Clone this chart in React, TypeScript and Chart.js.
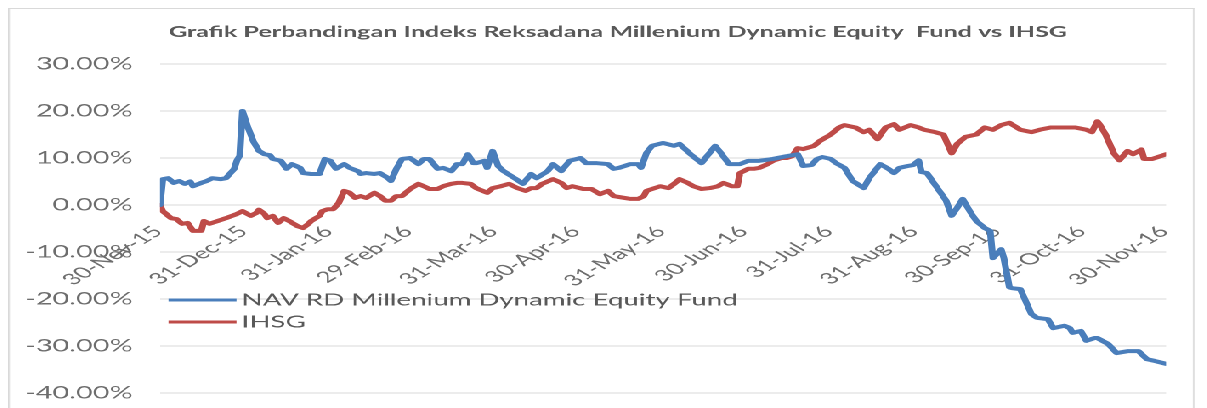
import React, { useEffect, useRef } from 'react';
import { Chart, registerables } from 'chart.js';

Chart.register(...registerables);

const TITLE = 'Grafik Perbandingan Indeks Reksadana Millenium Dynamic Equity  Fund vs IHSG';
const SERIES_NAMES = ['NAV RD Millenium Dynamic Equity Fund', 'IHSG'];
const SERIES_COLORS = ['#4a7ebb', '#be4b48'];

// x = days since 30-Nov-15
const TICK_DAYS = [0, 31, 62, 91, 122, 152, 183, 213, 244, 275, 305, 336, 366];
const TICK_LABELS = [
  '30-Nov-15', '31-Dec-15', '31-Jan-16', '29-Feb-16', '31-Mar-16', '30-Apr-16',
  '31-May-16', '30-Jun-16', '31-Jul-16', '31-Aug-16', '30-Sep-16', '31-Oct-16', '30-Nov-16',
];
const Y_MIN = -40;
const Y_MAX = 30;
const Y_STEP = 10;

const NAV_DAYS = [
  0, 1, 3, 5, 7, 9, 11, 12, 15, 17, 19, 22, 24, 27, 28, 29, 30, 32, 34, 36, 38, 40, 41, 44, 46, 48,
  51, 52, 55, 58, 60, 62, 64, 67, 69, 72, 73, 75, 78, 80, 83, 84, 86, 88, 91, 94, 96, 98, 101, 103,
  106, 108, 110, 112, 114, 115, 118, 119, 121, 123, 125, 129, 132, 135, 137, 141, 143, 146, 149,
  153, 155, 159, 163, 165, 167, 171, 174, 175, 177, 179, 183, 187, 189, 193, 197, 199, 202, 204,
  207, 211, 214, 218, 223, 228, 232, 234, 237, 239, 241, 244, 246, 249, 252, 256, 258, 262, 265,
  267, 269, 272, 274, 276, 277, 279, 281, 284, 286, 288, 290, 292, 295, 297, 300, 302, 303, 306,
  307, 309, 310, 313, 317, 319, 323, 325, 329, 331, 332, 335, 337, 340, 341, 345, 348, 352, 356,
  359, 362, 366,
];
const NAV_VALUES = [
  0.0, 5.5, 5.7, 4.7, 5.1, 4.5, 5.0, 4.0, 4.7, 5.1, 5.7, 5.5, 5.7, 7.7, 9.5, 10.5, 20.0, 16.5, 13.5,
  11.5, 10.8, 10.6, 9.8, 9.4, 7.7, 8.7, 7.9, 6.8, 6.6, 6.6, 9.8, 9.4, 7.7, 8.7, 7.9, 7.2, 6.6, 6.8,
  6.6, 6.8, 5.7, 5.1, 7.7, 9.8, 10.0, 8.7, 9.8, 9.8, 7.7, 7.9, 7.2, 8.7, 8.7, 10.8, 8.9, 8.9, 9.4,
  7.9, 11.5, 8.3, 7.2, 5.7, 4.5, 6.6, 5.7, 7.2, 8.7, 7.2, 9.4, 10.0, 8.9, 8.9, 8.7, 7.7, 7.9, 8.7,
  8.7, 7.9, 11.1, 12.6, 13.2, 12.6, 13.0, 10.8, 8.9, 10.4, 12.6, 11.1, 8.7, 8.7, 9.4, 9.4, 9.8,
  10.4, 10.8, 8.3, 8.5, 9.8, 10.2, 9.8, 8.9, 7.9, 5.1, 3.6, 5.7, 8.7, 7.7, 6.8, 7.9, 8.3, 8.5, 9.5,
  7.0, 6.8, 5.1, 2.6, 0.9, -2.3, -0.6, 1.3, -1.7, -3.4, -4.9, -5.5, -11.3, -9.4, -11.3, -17.5,
  -17.7, -17.9, -23.2, -24.0, -24.3, -26.2, -25.7, -26.2, -27.2, -26.8, -28.9, -28.3, -28.3, -29.6,
  -31.5, -31.1, -31.1, -32.8, -33.2, -33.8,
];

const IHSG_DAYS = [
  0, 1, 4, 6, 8, 10, 12, 15, 16, 18, 21, 24, 28, 30, 33, 35, 36, 38, 39, 41, 43, 45, 47, 50, 52, 54,
  55, 58, 59, 61, 63, 65, 67, 69, 71, 73, 75, 78, 80, 82, 84, 86, 88, 91, 94, 96, 98, 101, 103, 106,
  108, 110, 113, 115, 119, 121, 124, 127, 130, 133, 135, 137, 139, 143, 146, 148, 150, 154, 157,
  160, 163, 165, 169, 171, 174, 176, 177, 180, 182, 185, 187, 189, 192, 194, 197, 200, 203, 205,
  208, 210, 211, 214, 216, 218, 221, 223, 226, 228, 230, 232, 234, 238, 240, 244, 247, 249, 253,
  256, 258, 261, 264, 267, 269, 273, 276, 278, 282, 285, 288, 290, 293, 297, 300, 303, 306, 309,
  313, 317, 320, 324, 328, 333, 337, 339, 341, 342, 344, 347, 349, 352, 354, 357, 358, 361, 364, 366,
];
const IHSG_VALUES = [
  0.0, -1.3, -2.8, -3.0, -4.0, -3.8, -5.5, -5.5, -3.4, -4.0, -3.4, -2.8, -1.9, -1.3, -2.3, -1.7,
  -1.0, -1.9, -2.8, -2.3, -3.8, -2.8, -3.4, -4.5, -4.9, -4.0, -3.4, -2.3, -1.3, -0.9, -0.9, 0.4,
  3.0, 2.6, 1.5, 1.9, 1.5, 2.6, 1.9, 0.9, 0.9, 1.9, 1.9, 3.4, 4.5, 4.0, 3.4, 3.4, 4.0, 4.5, 4.7,
  4.7, 4.5, 3.6, 2.6, 3.6, 4.0, 4.5, 3.6, 3.0, 3.6, 3.6, 4.5, 5.5, 4.7, 3.6, 4.0, 3.4, 3.4, 2.3,
  3.0, 1.9, 1.5, 1.3, 1.3, 1.9, 3.0, 3.6, 4.0, 3.6, 4.5, 5.5, 4.7, 4.0, 3.4, 3.6, 4.0, 4.7, 4.0,
  4.0, 6.8, 7.7, 7.7, 7.9, 8.7, 9.4, 10.0, 10.0, 10.4, 12.1, 11.9, 12.6, 13.6, 15.0, 16.5, 17.0,
  16.5, 15.5, 16.0, 14.0, 16.5, 17.2, 16.0, 17.0, 16.5, 16.0, 15.5, 15.0, 11.0, 13.0, 14.5, 15.0,
  16.5, 16.0, 17.0, 17.5, 16.0, 15.5, 16.0, 16.5, 16.5, 16.5, 16.0, 15.5, 17.8, 17.0, 15.0, 11.0,
  9.5, 11.5, 10.8, 11.8, 9.8, 9.8, 10.4, 10.8,
];

const FONT = 'Lato, "Open Sans", sans-serif';
const STRETCH = 1.7;
const CANVAS_W = 696;
const CANVAS_H = 399;

// month labels sitting under the 0% line, rotated 45°, positioned from the chart's own scales
const zeroLineLabels = {
  id: 'zeroLineLabels',
  beforeDatasetsDraw(chart: any) {
    const { ctx, scales } = chart;
    const xs = scales.x;
    const ys = scales.y;
    const y0 = ys.getPixelForValue(0);
    ctx.save();
    ctx.fillStyle = '#6d6d6d';
    ctx.font = `15.5px ${FONT}`;
    ctx.textAlign = 'right';
    ctx.textBaseline = 'middle';
    TICK_DAYS.forEach((d, i) => {
      const px = xs.getPixelForValue(d);
      ctx.save();
      ctx.translate(px - 1.2, y0 + 24);
      ctx.rotate(-Math.PI / 4);
      ctx.fillText(TICK_LABELS[i], 0, 0);
      ctx.restore();
    });
    ctx.restore();
  },
};

const overlayText = {
  id: 'overlayText',
  afterDraw(chart: any) {
    const { ctx, chartArea } = chart;
    ctx.save();
    ctx.fillStyle = '#595959';
    ctx.font = `bold 14.8px ${FONT}`;
    ctx.textAlign = 'center';
    ctx.textBaseline = 'middle';
    ctx.fillText(TITLE, 357.8, 23);
    SERIES_NAMES.forEach((name, i) => {
      const y = chartArea.top + 236 + i * 22;
      const x0 = chartArea.left + 5;
      ctx.strokeStyle = SERIES_COLORS[i];
      ctx.lineWidth = 3;
      ctx.lineCap = 'butt';
      ctx.beginPath();
      ctx.moveTo(x0, y);
      ctx.lineTo(x0 + 40, y);
      ctx.stroke();
      ctx.fillStyle = '#595959';
      ctx.font = `16.3px ${FONT}`;
      ctx.textBaseline = 'middle';
      ctx.textAlign = 'left';
      ctx.fillText(name, x0 + 43, y);
    });
    ctx.restore();
  },
};

export default function App() {
  const ref = useRef<HTMLCanvasElement | null>(null);

  useEffect(() => {
    if (!ref.current) return;
    const chart = new Chart(ref.current, {
      type: 'line',
      data: {
        datasets: [
          {
            label: SERIES_NAMES[0],
            data: NAV_DAYS.map((d, i) => ({ x: d, y: NAV_VALUES[i] })),
            borderColor: SERIES_COLORS[0],
            borderWidth: 4,
            pointRadius: 0,
            tension: 0,
            borderJoinStyle: 'round',
            borderCapStyle: 'round',
          },
          {
            label: SERIES_NAMES[1],
            data: IHSG_DAYS.map((d, i) => ({ x: d, y: IHSG_VALUES[i] })),
            borderColor: SERIES_COLORS[1],
            borderWidth: 4,
            pointRadius: 0,
            tension: 0,
            borderJoinStyle: 'round',
            borderCapStyle: 'round',
          },
        ],
      },
      options: {
        animation: false,
        responsive: false,
        devicePixelRatio: 2,
        layout: { padding: { left: 0, right: 15.8, top: 55, bottom: 15 } },
        plugins: {
          legend: { display: false },
          tooltip: { enabled: false },
          title: { display: false },
        },
        scales: {
          x: {
            type: 'linear',
            display: false,
            min: 0,
            max: 366,
          },
          y: {
            min: Y_MIN,
            max: Y_MAX,
            afterFit: (scale: any) => {
              scale.width = 88.4;
              scale.paddingTop = 0;
              scale.paddingBottom = 0;
            },
            grid: { color: '#d9d9d9', lineWidth: 1, drawTicks: false },
            border: { display: false },
            ticks: {
              stepSize: Y_STEP,
              padding: 16,
              color: '#6d6d6d',
              font: { family: FONT, size: 17 },
              callback: (value: any) => Number(value).toFixed(2) + '%',
            },
          },
        },
      },
      plugins: [zeroLineLabels, overlayText],
    } as any);
    return () => chart.destroy();
  }, []);

  return (
    <div
      style={{
        width: CANVAS_W,
        height: CANVAS_H,
        borderTop: '1px solid #d9d9d9',
        borderLeft: '1px solid #d9d9d9',
        borderRight: '1px solid #d9d9d9',
        transform: `scaleX(${STRETCH})`,
        transformOrigin: '0 0',
        background: '#fff',
      }}
    >
      <canvas ref={ref} width={CANVAS_W} height={CANVAS_H} />
    </div>
  );
}
